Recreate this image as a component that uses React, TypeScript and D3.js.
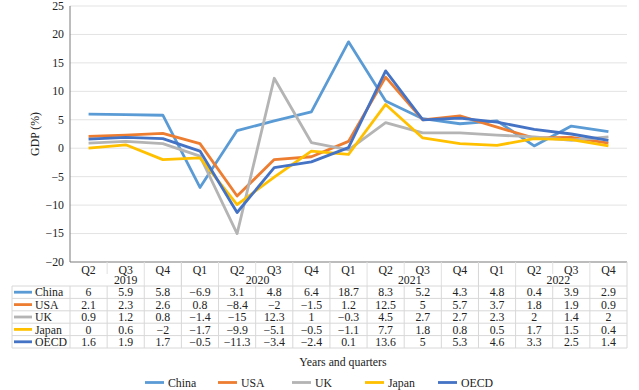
import * as d3 from "d3";

const quarters = ["Q2", "Q3", "Q4", "Q1", "Q2", "Q3", "Q4", "Q1", "Q2", "Q3", "Q4", "Q1", "Q2", "Q3", "Q4"];
const years = [
  { label: "2019", end: 3, labelAt: 1.5 },
  { label: "2020", end: 7, labelAt: 5.05 },
  { label: "2021", end: 11, labelAt: 9.15 },
  { label: "2022", end: 15, labelAt: 13.15 },
];
const partialDividers = [1, 5, 9, 13];

const china = [6, 5.9, 5.8, -6.9, 3.1, 4.8, 6.4, 18.7, 8.3, 5.2, 4.3, 4.8, 0.4, 3.9, 2.9];
const usa = [2.1, 2.3, 2.6, 0.8, -8.4, -2, -1.5, 1.2, 12.5, 5, 5.7, 3.7, 1.8, 1.9, 0.9];
const uk = [0.9, 1.2, 0.8, -1.4, -15, 12.3, 1, -0.3, 4.5, 2.7, 2.7, 2.3, 2, 1.4, 2];
const japan = [0, 0.6, -2, -1.7, -9.9, -5.1, -0.5, -1.1, 7.7, 1.8, 0.8, 0.5, 1.7, 1.5, 0.4];
const oecd = [1.6, 1.9, 1.7, -0.5, -11.3, -3.4, -2.4, 0.1, 13.6, 5, 5.3, 4.6, 3.3, 2.5, 1.4];

const yTicks = [25, 20, 15, 10, 5, 0, -5, -10, -15, -20];

const series = [
  { name: "China", values: china, color: "#5b9bd5" },
  { name: "USA", values: usa, color: "#ed7d31" },
  { name: "UK", values: uk, color: "#b4b4b4" },
  { name: "Japan", values: japan, color: "#ffc000" },
  { name: "OECD", values: oecd, color: "#4472c4" },
];

const font = "Liberation Serif, Times New Roman, Times, serif";
const fmt = (v: number) => (v < 0 ? "\u2212" + Math.abs(v) : String(v));
const fs = 11.8;

export default function App() {
  const W = 639;
  const H = 390;
  const left = 70;
  const right = 627;
  const tableLeft = 12;
  const x = d3.scaleBand<number>().domain(d3.range(quarters.length)).range([left, right]);
  const y = d3.scaleLinear().domain([-20, 25]).range([262, 6]);
  const cx = (i: number) => (x(i) as number) + x.bandwidth() / 2;
  const line = d3
    .line<number>()
    .x((_, i) => cx(i))
    .y((d) => y(d));

  const headTop = 262;
  const rowTop = 286;
  const rowH = 12.4;
  const tableBottom = rowTop + rowH * series.length;

  return (
    <svg width={W} height={H} style={{ position: "absolute", left: 0, top: 0, background: "#fff", fontFamily: font }}>
      {/* grid */}
      {yTicks.map((t) => (
        <g key={t}>
          {t !== -20 && <line x1={left} x2={right} y1={y(t)} y2={y(t)} stroke="#e3e3e3" strokeWidth={1} />}
          <text x={64} y={y(t)} dy="0.33em" textAnchor="end" fontSize={fs} fill="#222">
            {fmt(t)}
          </text>
        </g>
      ))}
      <line x1={left} x2={left} y1={y(25)} y2={headTop} stroke="#7a7a7a" strokeWidth={1} />
      <text transform={`translate(39,134) rotate(-90)`} textAnchor="middle" fontSize={fs} fill="#222">
        GDP (%)
      </text>

      {/* series */}
      {series.map((s) => (
        <path key={s.name} d={line(s.values) || ""} fill="none" stroke={s.color} strokeWidth={2.8} strokeLinejoin="round" />
      ))}

      {/* table header */}
      <line x1={left} x2={right} y1={headTop} y2={headTop} stroke="#7a7a7a" strokeWidth={1.2} />
      {quarters.map((q, i) => (
        <g key={i}>
          <text x={cx(i)} y={headTop + 11.5} textAnchor="middle" fontSize={fs} fill="#222">
            {q}
          </text>
          {i > 0 && (
            <line
              x1={x(i) as number}
              x2={x(i) as number}
              y1={headTop}
              y2={partialDividers.includes(i) ? headTop + 12 : rowTop}
              stroke="#e0e0e0"
            />
          )}
        </g>
      ))}
      {years.map((yr) => (
        <g key={yr.label}>
          <text x={left + x.bandwidth() * yr.labelAt} y={headTop + 21.5} textAnchor="middle" fontSize={fs} fill="#222">
            {yr.label}
          </text>
          <line x1={left + x.bandwidth() * yr.end} x2={left + x.bandwidth() * yr.end} y1={headTop} y2={rowTop} stroke="#d8d8d8" />
        </g>
      ))}

      {/* table rows */}
      <line x1={tableLeft} x2={right} y1={rowTop} y2={rowTop} stroke="#d8d8d8" />
      <line x1={tableLeft} x2={tableLeft} y1={rowTop} y2={tableBottom} stroke="#d8d8d8" />
      <line x1={left} x2={left} y1={rowTop} y2={tableBottom} stroke="#d8d8d8" />
      {series.map((s, r) => {
        const top = rowTop + r * rowH;
        const mid = top + rowH / 2;
        return (
          <g key={s.name}>
            <line x1={tableLeft} x2={right} y1={top + rowH} y2={top + rowH} stroke="#d8d8d8" />
            <line x1={tableLeft + 2} x2={tableLeft + 20} y1={mid} y2={mid} stroke={s.color} strokeWidth={2.8} />
            <text x={tableLeft + 23} y={mid} dy="0.35em" fontSize={fs} fill="#222">
              {s.name}
            </text>
            {s.values.map((v, i) => (
              <text key={i} x={cx(i)} y={mid} dy="0.35em" textAnchor="middle" fontSize={fs} fill="#222">
                {fmt(v)}
              </text>
            ))}
          </g>
        );
      })}
      {quarters.map((_, i) => (
        <line key={i} x1={(x(i) as number) + x.bandwidth()} x2={(x(i) as number) + x.bandwidth()} y1={rowTop} y2={tableBottom} stroke="#d8d8d8" />
      ))}

      <text x={343} y={362} dy="0.35em" textAnchor="middle" fontSize={fs} fill="#222">
        Years and quarters
      </text>

      {/* legend */}
      {series.map((s, i) => {
        const lx = [145, 218, 292, 365, 438][i];
        return (
          <g key={s.name}>
            <line x1={lx} x2={lx + 19} y1={382.5} y2={382.5} stroke={s.color} strokeWidth={2.8} />
            <text x={lx + 23} y={382.5} dy="0.35em" fontSize={fs} fill="#222">
              {s.name}
            </text>
          </g>
        );
      })}
    </svg>
  );
}
